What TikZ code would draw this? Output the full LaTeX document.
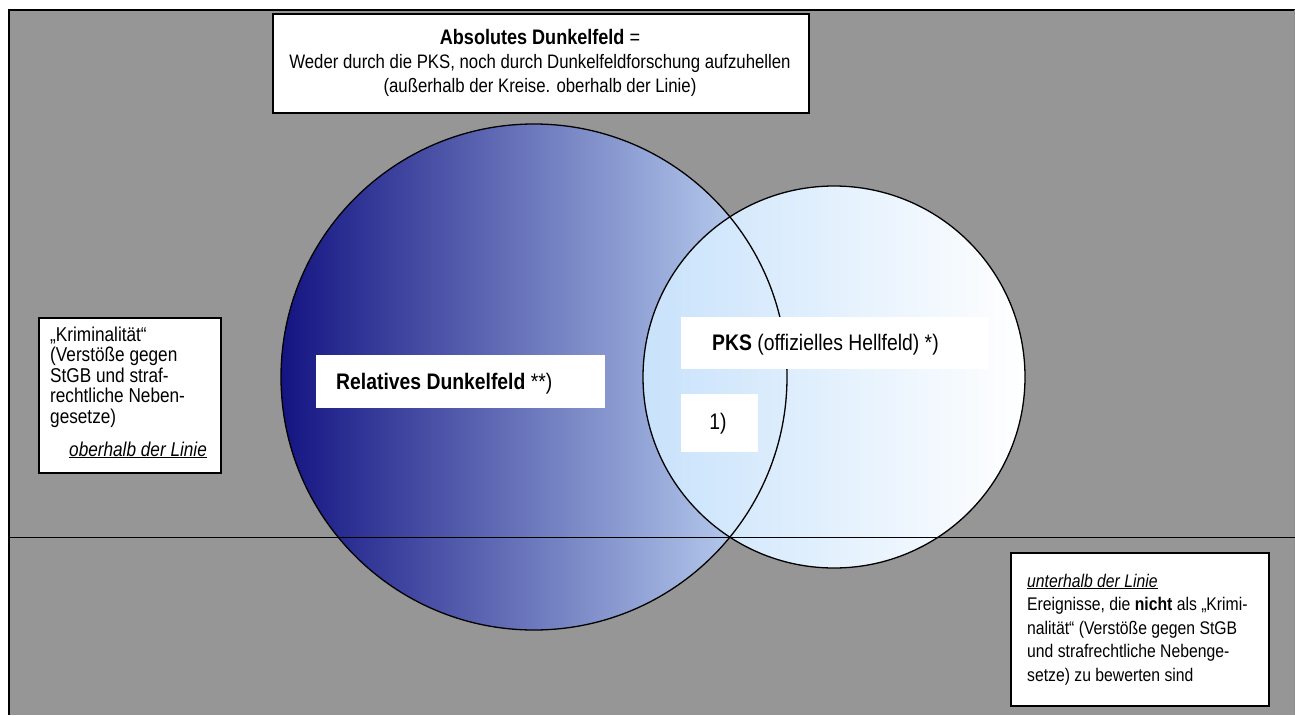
\documentclass[tikz,border=0pt]{standalone}
\usepackage{fontspec}
\setmainfont{Liberation Sans}[FakeStretch=0.86]
\definecolor{bg}{RGB}{150,150,150}
\definecolor{navy}{RGB}{20,20,130}
\definecolor{lblue}{RGB}{198,222,248}
\definecolor{pale}{RGB}{200,226,251}
\newcommand{\lines}[1]{\begin{tabular}[t]{@{}l@{}}#1\end{tabular}}
\begin{document}
\begin{tikzpicture}[x=1pt,y=-1pt,
  frame/.style={fill=white, draw=black, line width=1.6pt, inner sep=0pt, anchor=north west},
  panel/.style={fill=white, inner sep=0pt, anchor=north west},
  txt/.style={inner sep=0pt, anchor=base west, align=left},
  topf/.style={font=\fontsize{19.5}{22}\selectfont},
  leftf/.style={font=\fontsize{20}{20.5}\selectfont},
  midf/.style={font=\fontsize{22.5}{24}\selectfont},
  rightf/.style={font=\fontsize{18.3}{23.5}\selectfont},
  ring/.style={draw=black, line width=1.3pt}]
\useasboundingbox (0,0) rectangle (1295,715);
\fill[bg] (9,10) rectangle (1295,715);
\draw[line width=2pt] (9,715) -- (9,10) -- (1295,10);
\draw[line width=1pt, black!45] (1294.5,10) -- (1294.5,715);
% circles
\shade[left color=navy,right color=lblue] (534,377) circle[radius=253pt];
\shade[left color=pale,right color=white] (834,377) circle[radius=191pt];
\draw[ring] (534,377) circle[radius=253pt];
\draw[ring] (834,377) circle[radius=191pt];
% dividing line
\coordinate (lineL) at (9,537);
\coordinate (lineR) at (1295,537);
\draw[line width=1pt] (lineL) -- (lineR);
% top box
\node[frame, minimum width=536pt, minimum height=99pt] (topbox) at (272,13) {};
\node[topf, font=\fontsize{21}{22}\selectfont, inner sep=0pt, anchor=base] (t1) at (540,44) {\textbf{Absolutes Dunkelfeld} =};
\node[topf, inner sep=0pt, anchor=base] (t2) at (540,68) {Weder durch die PKS, noch durch Dunkelfeldforschung aufzuhellen};
\node[topf, inner sep=0pt, anchor=base] (t3) at (540,92) {(außerhalb der Kreise. oberhalb der Linie)};
% left box
\node[frame, minimum width=182pt, minimum height=155pt] (leftbox) at (38,317) {};
\node[txt, leftf] (lefttxt) at (50,341) {\lines{„Kriminalität“\\(Verstöße gegen\\StGB und straf-\\rechtliche Neben-\\gesetze)}};
\node[txt, leftf] (leftnote) at (69,456) {\underline{\textit{oberhalb der Linie}}};
% relative dark field
\node[panel, minimum width=289pt, minimum height=53pt] (relbox) at (316,355) {};
\node[txt, midf] (reltxt) at (336,389) {\textbf{Relatives Dunkelfeld} **)};
% PKS
\node[panel, minimum width=307pt, minimum height=52pt] (pksbox) at (681,317) {};
\node[txt, midf] (pkstxt) at (712,350) {\textbf{PKS} (offizielles Hellfeld) *)};
% 1)
\node[panel, minimum width=77pt, minimum height=58pt] (onebox) at (681,394) {};
\node[midf, inner sep=0pt, anchor=base] (onetxt) at (718,429) {1)};
% right box
\node[frame, minimum width=258pt, minimum height=153pt] (rightbox) at (1010,552) {};
\node[txt, rightf] (righttxt) at (1027,587) {\lines{\underline{\textit{unterhalb der Linie}}\\Ereignisse, die \textbf{nicht} als „Krimi-\\nalität“ (Verstöße gegen StGB\\und strafrechtliche Nebenge-\\setze) zu bewerten sind}};
\end{tikzpicture}
\end{document}
